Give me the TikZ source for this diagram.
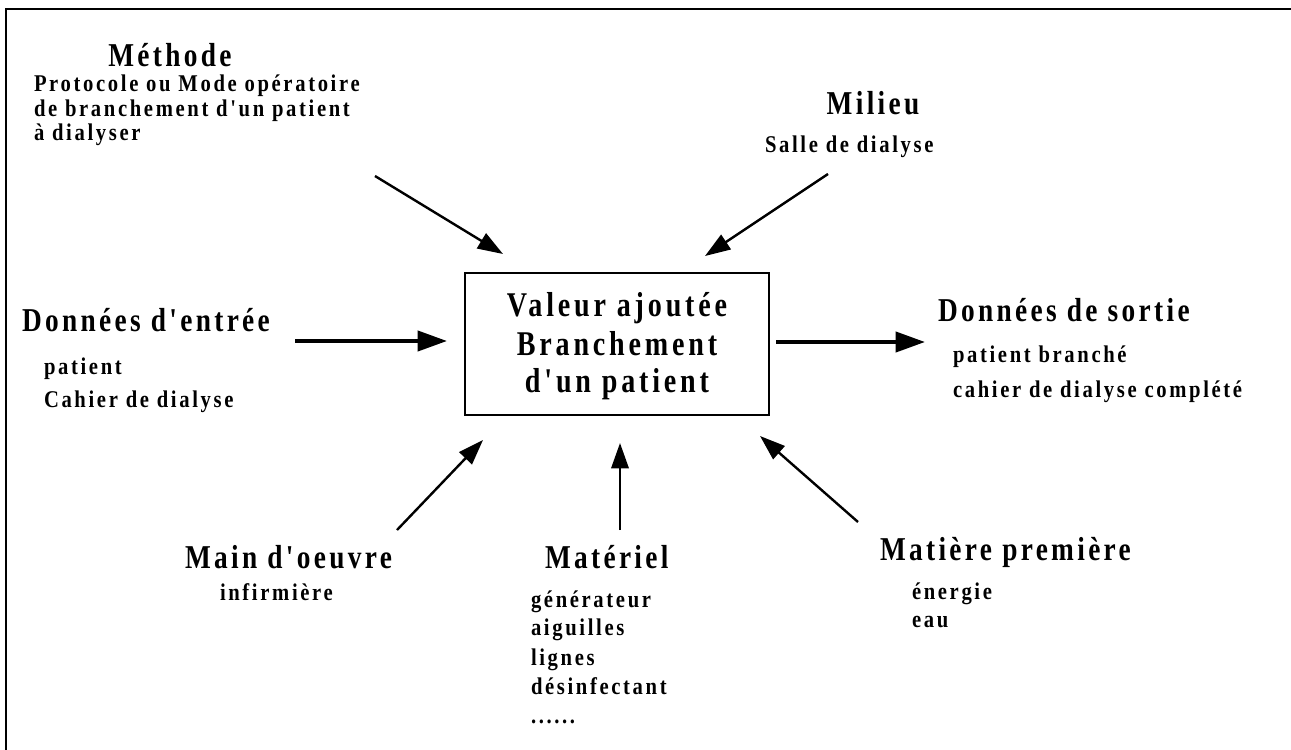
\documentclass[tikz,border=0pt]{standalone}
\usepackage{fontspec}
\setmainfont{Liberation Serif}
% narrow, spaced-out bold serif faces for the three text levels
\newfontfamily\ttlfont{Liberation Serif}[FakeStretch=0.82,LetterSpace=10]
\newfontfamily\subfont{Liberation Serif}[FakeStretch=0.86,LetterSpace=11]
\newfontfamily\boxfont{Liberation Serif}[FakeStretch=0.81,LetterSpace=11]
\usetikzlibrary{arrows.meta}
\begin{document}
\begin{tikzpicture}[x=0.75pt,y=-0.75pt,
  every node/.style={inner sep=0pt,outer sep=0pt},
  ttl/.style={font=\ttlfont\bfseries\fontsize{25}{29}\selectfont},
  sub/.style={font=\subfont\bfseries\fontsize{18}{22}\selectfont},
  boxtxt/.style={font=\boxfont\bfseries\fontsize{26}{30}\selectfont},
  thinarrow/.style={line width=1.8pt,-{Triangle[length=19pt,width=13pt]}},
  thickarrow/.style={line width=3pt,-{Triangle[length=22pt,width=15pt]}},
]
\useasboundingbox (0,0) rectangle (1291,749);

% outer frame (open at right and bottom)
\draw[line width=1.5pt] (6,760) -- (6,9) -- (1300,9);

% central process box
\node[draw,line width=1.5pt,minimum width=228pt,minimum height=106.5pt] (box) at (617,344) {};
\node[boxtxt,anchor=base] (va1) at (617,316) {Valeur ajoutée};
\node[boxtxt,anchor=base] (va2) at (617,355) {Branchement};
\node[boxtxt,anchor=base] (va3) at (617,392) {d'un patient};

% Méthode
\node[ttl,anchor=base] (meth) at (170,67) {Méthode};
\node[sub,anchor=base west] (meth1) at (34,92) {Protocole ou Mode opératoire};
\node[sub,anchor=base west] (meth2) at (34,116) {de branchement d'un patient};
\node[sub,anchor=base west] (meth3) at (34,140) {à dialyser};

% Milieu
\node[ttl,anchor=base] (mil) at (873,114) {Milieu};
\node[sub,anchor=base west] (mil1) at (765,152) {Salle de dialyse};

% Données d'entrée
\node[ttl,anchor=base west] (din) at (22,331) {Données d'entrée};
\node[sub,anchor=base west] (din1) at (44,374) {patient};
\node[sub,anchor=base west] (din2) at (44,407) {Cahier de dialyse};

% Données de sortie
\node[ttl,anchor=base west] (dout) at (938,321) {Données de sortie};
\node[sub,anchor=base west] (dout1) at (953,362) {patient branché};
\node[sub,anchor=base west] (dout2) at (953,397) {cahier de dialyse complété};

% Main d'oeuvre
\node[ttl,anchor=base west] (mo) at (185,568) {Main d'oeuvre};
\node[sub,anchor=base west] (mo1) at (220,600) {infirmière};

% Matériel
\node[ttl,anchor=base west] (mat) at (545,568) {Matériel};
\node[sub,anchor=base west] (mat1) at (531,607) {générateur};
\node[sub,anchor=base west] (mat2) at (531,635) {aiguilles};
\node[sub,anchor=base west] (mat3) at (531,665) {lignes};
\node[sub,anchor=base west] (mat4) at (531,694) {désinfectant};
\node[sub,anchor=base west] (mat5) at (531,723) {......};

% Matière première
\node[ttl,anchor=base west] (mp) at (880,560) {Matière première};
\node[sub,anchor=base west] (mp1) at (912,599) {énergie};
\node[sub,anchor=base west] (mp2) at (912,627) {eau};

% arrow end points
\coordinate (methS) at (375,176);  \coordinate (methE) at (503,254);
\coordinate (milS)  at (828,174);  \coordinate (milE)  at (705,256);
\coordinate (inS)   at (295,341);  \coordinate (inE)   at (447,341);
\coordinate (outS)  at (776,342);  \coordinate (outE)  at (925,342);
\coordinate (moS)   at (397,530);  \coordinate (moE)   at (483,440);
\coordinate (matS)  at (620,530);  \coordinate (matE)  at (620,443);
\coordinate (mpS)   at (858,522);  \coordinate (mpE)   at (760,436);

\draw[thinarrow] (methS) -- (methE);
\draw[thinarrow] (milS) -- (milE);
\draw[thickarrow] (inS) -- (inE);
\draw[thickarrow] (outS) -- (outE);
\draw[thinarrow] (moS) -- (moE);
\draw[thinarrow] (matS) -- (matE);
\draw[thinarrow] (mpS) -- (mpE);
\end{tikzpicture}
\end{document}
